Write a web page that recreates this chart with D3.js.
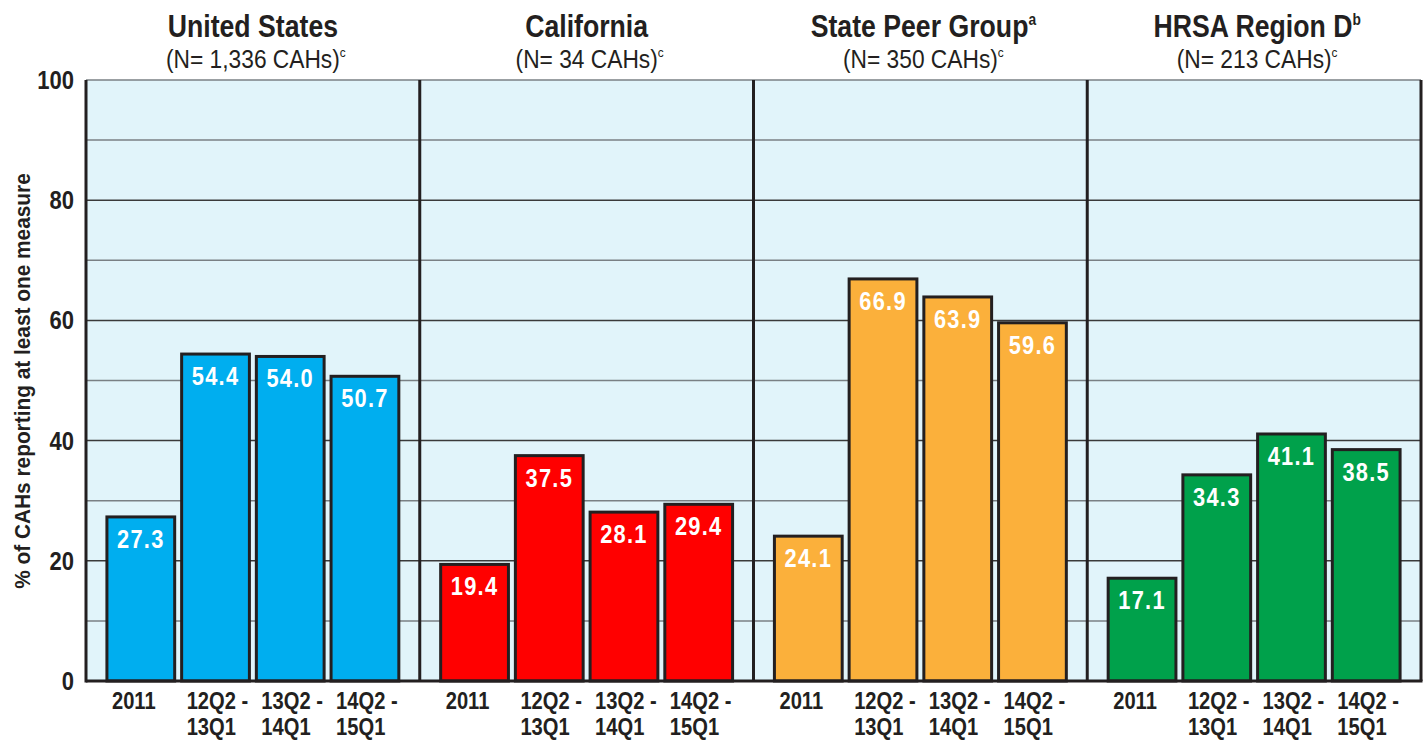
<!DOCTYPE html>
<html>
<head>
<meta charset="utf-8">
<script src="https://cdn.jsdelivr.net/npm/d3@7"></script>
<style>
  body { margin: 0; background: #fff; }
  text { font-family: "Liberation Sans", Arial, sans-serif; fill: #231f20; }
</style>
</head>
<body>
<div id="chart"></div>
<script>
// Chart data
const groups    = ["United States", "California", "State Peer Group", "HRSA Region D"];
const groupSups = ["", "", "a", "b"];
const groupN    = ["1,336", "34", "350", "213"];
const periods   = ["2011", "12Q2 - 13Q1", "13Q2 - 14Q1", "14Q2 - 15Q1"];
const usValues     = [27.3, 54.4, 54.0, 50.7];
const caValues     = [19.4, 37.5, 28.1, 29.4];
const peerValues   = [24.1, 66.9, 63.9, 59.6];
const regionValues = [17.1, 34.3, 41.1, 38.5];
const yTicks = [0, 20, 40, 60, 80, 100];
const gridTicks = [10, 20, 30, 40, 50, 60, 70, 80, 90, 100];
const colors = ["#00aeef", "#ff0000", "#fbb03b", "#00a14b"];

const seriesValues = [usValues, caValues, peerValues, regionValues];

// Dimensions
const W = 1426, H = 740;
const margin = { top: 80, right: 5, bottom: 59, left: 86 },
    width  = W - margin.left - margin.right,
    height = H - margin.top - margin.bottom;

const svg = d3.select("#chart")
    .append("svg")
    .attr("width", W)
    .attr("height", H);

const g = svg.append("g")
    .attr("transform", `translate(${margin.left}, ${margin.top})`);

// No condensed face installed, so squeeze text horizontally
function narrowText(parent, x, y, sx) {
    return parent.append("text")
        .attr("transform", `translate(${x}, ${y}) scale(${sx}, 1)`);
}

// Scales
const x0 = d3.scaleBand()
    .domain(groups)
    .range([0, width]);

const x1 = d3.scaleBand()
    .domain(periods)
    .range([0, x0.bandwidth()])
    .paddingInner(0.093)
    .paddingOuter(0.28);

const y = d3.scaleLinear()
    .domain([0, 100])
    .range([height, 0]);

// Panel background
g.append("rect")
    .attr("x", 0).attr("y", 0)
    .attr("width", width).attr("height", height)
    .attr("fill", "#e1f4fa");

// Gridlines
g.selectAll(".grid")
    .data(gridTicks)
    .enter()
    .append("line")
    .attr("x1", 0).attr("x2", width)
    .attr("y1", d => y(d)).attr("y2", d => y(d))
    .attr("stroke", d => (d % 20 === 0 && d < 100) ? "#3a3a3a" : "#7a8084")
    .attr("stroke-width", 1.5);

// Right edge
g.append("line")
    .attr("x1", width).attr("x2", width)
    .attr("y1", 0).attr("y2", height)
    .attr("stroke", "#231f20")
    .attr("stroke-width", 3);

// Panel dividers
g.selectAll(".divider")
    .data(groups.slice(1))
    .enter()
    .append("line")
    .attr("x1", d => x0(d)).attr("x2", d => x0(d))
    .attr("y1", 0).attr("y2", height)
    .attr("stroke", "#231f20")
    .attr("stroke-width", 3);

// Bars
groups.forEach((grp, gi) => {
    const panel = g.append("g")
        .attr("transform", `translate(${x0(grp)}, 0)`);

    const rows = periods.map((p, i) => ({ period: p, value: seriesValues[gi][i] }));

    panel.selectAll("rect")
        .data(rows)
        .enter()
        .append("rect")
        .attr("x", d => x1(d.period))
        .attr("y", d => y(d.value))
        .attr("width", x1.bandwidth())
        .attr("height", d => height - y(d.value))
        .attr("fill", colors[gi])
        .attr("stroke", "#231f20")
        .attr("stroke-width", 3);

    // Value labels
    rows.forEach(d => {
        narrowText(panel, x1(d.period) + x1.bandwidth() / 2, y(d.value) + 31, 0.84)
            .attr("text-anchor", "middle")
            .style("fill", "#fff")
            .attr("font-weight", "bold")
            .attr("font-size", 26)
            .attr("letter-spacing", 1.5)
            .text(d.value.toFixed(1));
    });

    // Category labels (two lines, left aligned under the bar)
    periods.forEach(p => {
        const parts = p.split(" - ");
        const lx = x1(p) + 5;
        narrowText(panel, lx, height + 28, 0.84)
            .attr("font-weight", "bold")
            .attr("font-size", 24)
            .text(parts.length > 1 ? parts[0] + " -" : parts[0]);
        if (parts.length > 1) {
            narrowText(panel, lx, height + 54, 0.84)
                .attr("font-weight", "bold")
                .attr("font-size", 24)
                .text(parts[1]);
        }
    });

    // Panel titles
    const cxTitle = margin.left + x0(grp) + x0.bandwidth() / 2;
    const title = narrowText(svg, cxTitle + (groupSups[gi] ? 3 : 0), 37, 0.86)
        .attr("text-anchor", "middle")
        .attr("font-weight", "bold")
        .attr("font-size", 31)
        .text(grp);
    if (groupSups[gi]) {
        title.append("tspan")
            .attr("font-size", 16)
            .attr("dy", -12)
            .text(groupSups[gi]);
    }

    const sub = narrowText(svg, cxTitle + 3, 68, 0.91)
        .attr("text-anchor", "middle")
        .attr("font-size", 25)
        .text(`(N= ${groupN[gi]} CAHs)`);
    sub.append("tspan")
        .attr("font-size", 13)
        .attr("dy", -11)
        .text("c");
});

// Axes lines
g.append("line")
    .attr("x1", 0).attr("x2", 0)
    .attr("y1", 0).attr("y2", height + 1.5)
    .attr("stroke", "#231f20")
    .attr("stroke-width", 3);

g.append("line")
    .attr("x1", 0).attr("x2", width + 1.5)
    .attr("y1", height).attr("y2", height)
    .attr("stroke", "#231f20")
    .attr("stroke-width", 3);

// Y tick labels
yTicks.forEach(t => {
    narrowText(g, -12, y(t) + 9, 0.88)
        .attr("text-anchor", "end")
        .attr("font-weight", "bold")
        .attr("font-size", 25)
        .text(t);
});

// Y axis title
svg.append("text")
    .attr("transform", "translate(30, 381) rotate(-90) scale(0.97, 1)")
    .attr("text-anchor", "middle")
    .attr("font-weight", "bold")
    .attr("font-size", 21.5)
    .text("% of CAHs reporting at least one measure");
</script>
</body>
</html>
